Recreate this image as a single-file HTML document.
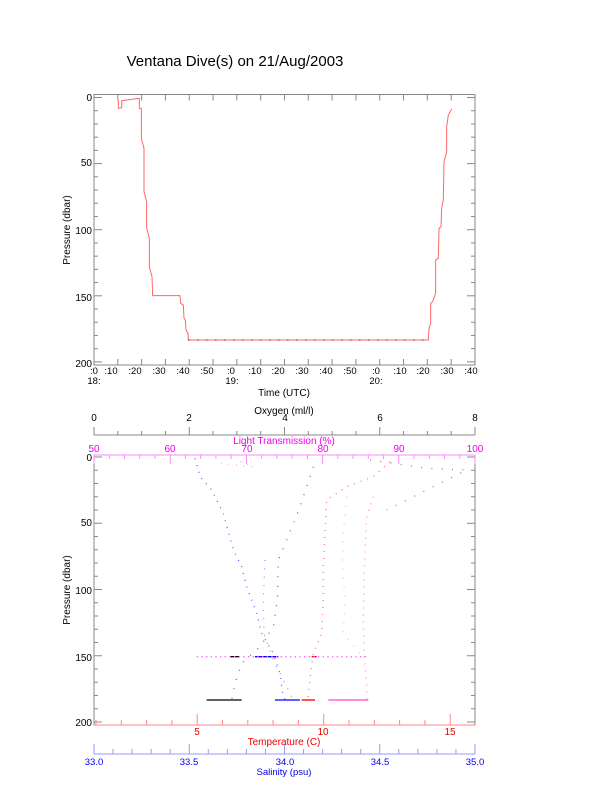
<!DOCTYPE html>
<html><head><meta charset="utf-8"><style>
html,body{margin:0;padding:0;background:#fff;}
svg{display:block;font-family:"Liberation Sans",sans-serif;}
</style></head><body>
<svg id="s" width="612" height="785" viewBox="0 0 612 785" xmlns="http://www.w3.org/2000/svg">
<rect width="612" height="785" fill="#fff"/>
<text x="235" y="66" font-size="15" text-anchor="middle">Ventana Dive(s) on 21/Aug/2003</text>

<!-- top chart -->
<rect x="94" y="94.5" width="381" height="270.5" fill="none" stroke="#888" stroke-width="1"/>
<g id="topticks" stroke="#888" stroke-width="1"></g>
<g font-size="10" text-anchor="end">
<text x="92" y="101">0</text><text x="92" y="166">50</text><text x="92" y="234">100</text><text x="92" y="301">150</text><text x="92" y="367">200</text>
</g>
<g font-size="9.5" text-anchor="middle">
<text x="94" y="374">:0</text><text x="111" y="374">:10</text><text x="135" y="374">:20</text><text x="159" y="374">:30</text><text x="183" y="374">:40</text><text x="207" y="374">:50</text><text x="231" y="374">:0</text><text x="255" y="374">:10</text><text x="278" y="374">:20</text><text x="302" y="374">:30</text><text x="326" y="374">:40</text><text x="350" y="374">:50</text><text x="376" y="374">:0</text><text x="400" y="374">:10</text><text x="423" y="374">:20</text><text x="447" y="374">:30</text><text x="471" y="374">:40</text>
<text x="94" y="384">18:</text><text x="232" y="384">19:</text><text x="376" y="384">20:</text>
</g>
<text x="284" y="396" font-size="10" text-anchor="middle">Time (UTC)</text>
<text transform="translate(70,230) rotate(-90)" font-size="10" text-anchor="middle">Pressure (dbar)</text>
<g transform="translate(60,85) scale(0.33333)">
<polyline fill="none" stroke="#f66" stroke-width="3" points="175,45 175,70 185,68 185,47 238,40 238,70 244,70 244,160 252,190 252,320 260,350 260,430 268,460 268,545 276,575 278,632 360,632 362,655 370,660 372,700 376,705 378,735 384,745 385,765 1105,765 1107,730 1112,715 1112,655 1118,650 1127,625 1127,525 1135,520 1137,430 1143,425 1145,370 1150,345 1152,230 1160,200 1160,125 1165,90 1175,72"/>
<polyline fill="none" stroke="#000" stroke-width="3" stroke-dasharray="3 24" points="385,765 1105,765"/>
</g>

<!-- bottom chart -->
<rect x="94" y="455" width="381" height="270" fill="none" stroke="#888" stroke-width="1"/>
<line x1="94" y1="455" x2="475" y2="455" stroke="#f8f" stroke-width="1"/>
<line x1="94" y1="725" x2="475" y2="725" stroke="#f88" stroke-width="1"/>
<line x1="94" y1="435" x2="475" y2="435" stroke="#888" stroke-width="1"/>
<line x1="94" y1="754" x2="475" y2="754" stroke="#99f" stroke-width="1"/>
<g id="botticks" stroke-width="1"></g>
<g font-size="10" text-anchor="end">
<text x="92" y="461">0</text><text x="92" y="526">50</text><text x="92" y="594">100</text><text x="92" y="661">150</text><text x="92" y="726">200</text>
</g>
<text transform="translate(70,590) rotate(-90)" font-size="10" text-anchor="middle">Pressure (dbar)</text>
<g font-size="10" text-anchor="middle">
<text x="284" y="414">Oxygen (ml/l)</text>
<text x="94" y="421">0</text><text x="189" y="421">2</text><text x="285" y="421">4</text><text x="380" y="421">6</text><text x="475" y="421">8</text>
</g>
<g font-size="10" text-anchor="middle" fill="#e0e">
<text x="284" y="444">Light Transmission (%)</text>
<text x="94" y="452">50</text><text x="170" y="452">60</text><text x="247" y="452">70</text><text x="323" y="452">80</text><text x="399" y="452">90</text><text x="475" y="452">100</text>
</g>
<g font-size="10" text-anchor="middle" fill="#e00">
<text x="197" y="735">5</text><text x="323" y="735">10</text><text x="450" y="735">15</text>
<text x="284" y="745">Temperature (C)</text>
</g>
<g font-size="9.5" text-anchor="middle" fill="#00e">
<text x="94" y="765">33.0</text><text x="189" y="765">33.5</text><text x="285" y="765">34.0</text><text x="380" y="765">34.5</text><text x="475" y="765">35.0</text>
<text x="284" y="775">Salinity (psu)</text>
</g>

<g transform="translate(60,400) scale(0.33333)" fill="none" stroke-width="4">
<polyline stroke="#66f" stroke-dasharray="3 18" points="405,175 420,230 455,270 490,340 520,450 545,500 560,560 590,640 605,700 640,760 660,820 668,880 675,900"/>
<polyline stroke="#99f" stroke-dasharray="3 22" points="615,480 610,600 612,700 640,780 680,860 700,900"/>
<polyline stroke="#00f" points="585,770 655,770"/>
<polyline stroke="#00f" points="645,900 720,900"/>
<polyline stroke="#777" stroke-dasharray="3 26" points="760,200 720,320 680,420 655,480 652,600 640,680 600,740 545,790 525,850 515,900"/>
<polyline stroke="#888" stroke-dasharray="3 28" points="930,180 1000,190 1100,205 1220,210 1140,250 1040,300 980,330"/>
<polyline stroke="#000" points="510,770 540,770"/>
<polyline stroke="#000" points="440,900 545,900"/>
<polyline stroke="#f77" stroke-dasharray="3 18" points="990,185 940,230 860,260 800,300 795,400 790,500 790,600 785,700 760,760 752,820 745,880 745,900"/>
<polyline stroke="#e00" points="725,900 765,900"/>
<polyline stroke="#e00" points="755,770 770,770"/>
<polyline stroke="#f8f" stroke-dasharray="3 18" points="940,290 920,350 915,450 912,550 910,650 912,770 920,850 920,900"/>
<polyline stroke="#faf" stroke-dasharray="3 24" points="860,290 850,400 848,500 855,600 850,700 900,760"/>
<polyline stroke="#f6f" stroke-dasharray="4 10" points="410,770 920,770"/>
<polyline stroke="#f4c" points="805,900 925,900"/>
<polyline stroke="#faf" stroke-dasharray="3 20" points="540,185 580,200 480,190"/>
</g>
</svg>
<script>
var NS="http://www.w3.org/2000/svg";
function L(g,x1,y1,x2,y2,c){var l=document.createElementNS(NS,"line");l.setAttribute("x1",x1);l.setAttribute("y1",y1);l.setAttribute("x2",x2);l.setAttribute("y2",y2);if(c)l.setAttribute("stroke",c);g.appendChild(l);}
var t=document.getElementById("topticks");
for(var p=0;p<=200;p+=10){var y=97.5+p*1.322,len=p%50?4:8;L(t,94,y,94+len,y);L(t,475,y,475-len,y);}
for(var m=0;m<=160;m+=10){var x=94+m*2.381;L(t,x,365,x,359);L(t,x,94.5,x,100.5);}
var b=document.getElementById("botticks");
for(var p=0;p<=200;p+=10){var y=457+p*1.325,len=p%50?4:8;L(b,94,y,94+len,y,"#888");L(b,475,y,475-len,y,"#888");}
for(var o=0;o<=8.001;o+=0.5){var x=94+o*47.625;L(b,x,435,x,Math.abs(o-Math.round(o/2)*2)<0.01?427:431,"#888");}
for(var lt=50;lt<=100;lt+=2){var x=94+(lt-50)*7.62;L(b,x,455,x,lt%10?459:464,"#f8f");}
for(var T=1;T<=16;T++){var x=70.7+T*25.3;if(x<94||x>475)continue;L(b,x,725,x,T%5?720:714,"#f88");}
for(var s=33;s<=35.001;s+=0.1){var x=94+(s-33)*190.5;var maj=Math.abs(s*2-Math.round(s*2))<0.01;L(b,x,754,x,maj?744:749,"#99f");}
</script>
</body></html>
